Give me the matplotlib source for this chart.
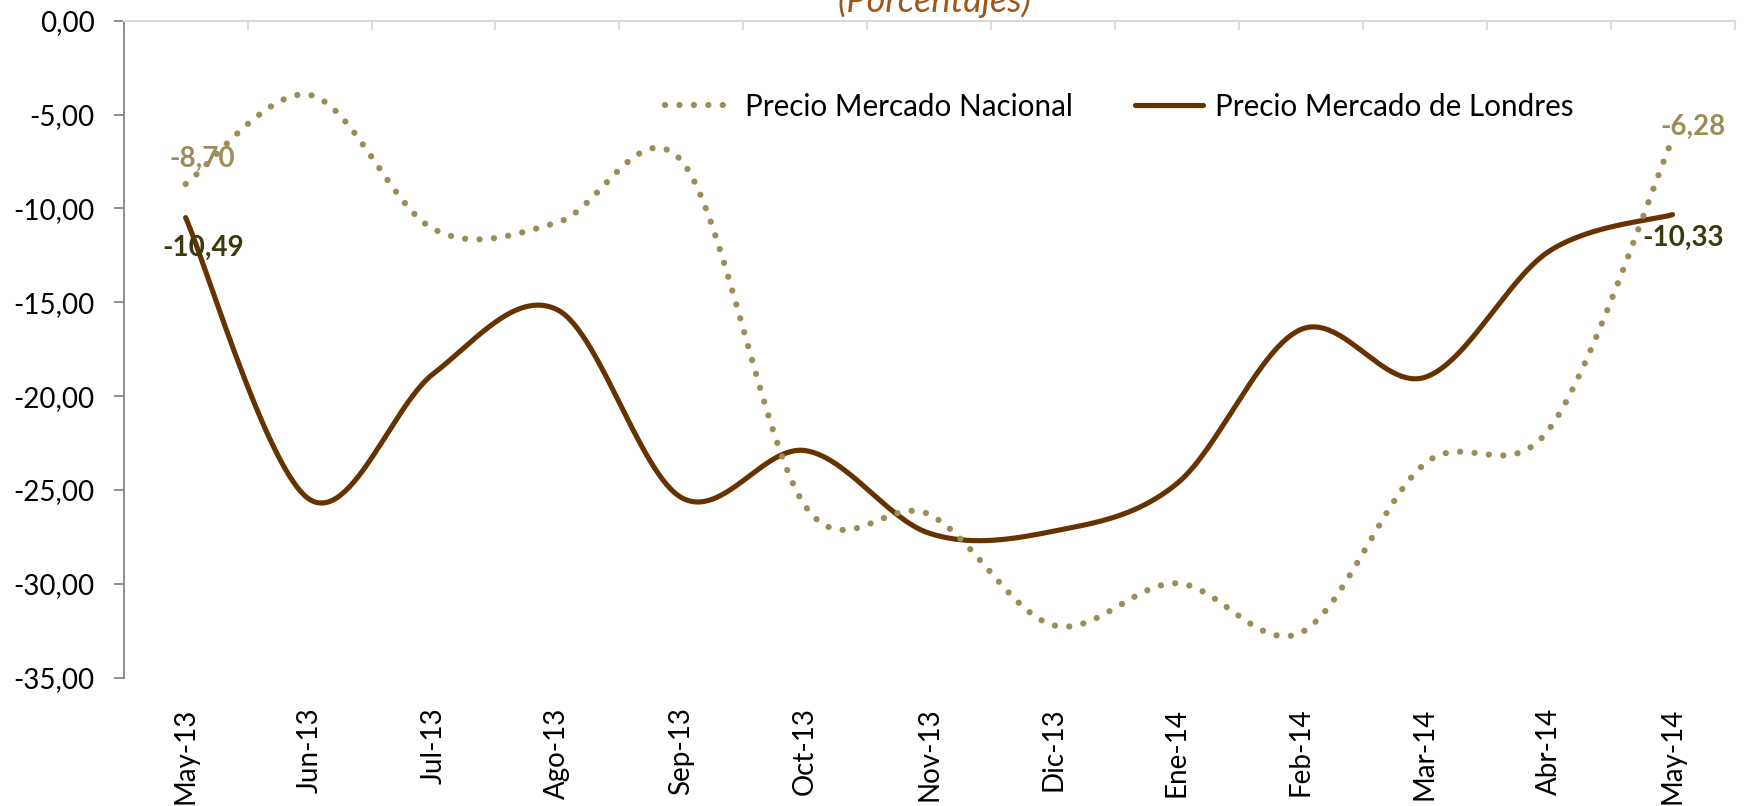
import numpy as np
import matplotlib
matplotlib.use("Agg")
import matplotlib.pyplot as plt
from matplotlib.ticker import FixedLocator, FuncFormatter

plt.rcParams['font.family'] = ['Lato', 'DejaVu Sans']

# Monthly variation (%)
meses = ["May-13", "Jun-13", "Jul-13", "Ago-13", "Sep-13", "Oct-13", "Nov-13",
         "Dic-13", "Ene-14", "Feb-14", "Mar-14", "Abr-14", "May-14"]
nacional = [-8.70, -3.95, -11.10, -10.75, -7.45, -25.85, -26.30,
            -32.20, -29.97, -32.60, -23.60, -21.80, -6.28]
londres = [-10.49, -25.50, -18.80, -15.40, -25.40, -22.90, -27.30,
           -27.20, -24.66, -16.45, -19.00, -12.30, -10.33]

yticks = [0, -5, -10, -15, -20, -25, -30, -35]

C_NAC = "#9B8D57"
C_LON = "#663300"
C_LAB = "#3A3A0A"
C_TITLE = "#A0561A"


def smooth_curve(y, steps=60):
    """Cubic Bezier through every point (Catmull-Rom style control points)."""
    y = np.asarray(y, float)
    x = np.arange(len(y), dtype=float)
    P = np.column_stack([x, y])
    n = len(P)
    out = []
    t = np.linspace(0, 1, steps)[:, None]
    for i in range(n - 1):
        p0 = P[i]
        p3 = P[i + 1]
        pm = P[i - 1] if i > 0 else P[i]
        pp = P[i + 2] if i + 2 < n else P[i + 1]
        c1 = p0 + (p3 - pm) / 6.0
        c2 = p3 - (pp - p0) / 6.0
        seg = ((1 - t) ** 3) * p0 + 3 * ((1 - t) ** 2) * t * c1 \
            + 3 * (1 - t) * t ** 2 * c2 + t ** 3 * p3
        out.append(seg if i == 0 else seg[1:])
    out = np.vstack(out)
    return out[:, 0], out[:, 1]


W, H, DPI = 1744, 806, 100
fig = plt.figure(figsize=(W / DPI, H / DPI), dpi=DPI)
ax = fig.add_axes([123.7 / W, 1 - 677.7 / H, 1610.8 / W, 657.0 / H])

xn, yn = smooth_curve(nacional)
xl, yl = smooth_curve(londres)

ax.plot(xn, yn, color=C_NAC, lw=4.5, linestyle=(0, (0.01, 2.3)),
        dash_capstyle='round', label="Precio Mercado Nacional", zorder=3)
ax.plot(xl, yl, color=C_LON, lw=3.7, solid_capstyle='round',
        label="Precio Mercado de Londres", zorder=2)

ax.set_xlim(-0.5, len(meses) - 0.5)
ax.set_ylim(-35, 0)

# Axis styling
for s in ("right", "bottom"):
    ax.spines[s].set_visible(False)
ax.spines["top"].set_color("#D9D9D9")
ax.spines["top"].set_linewidth(1.5)
ax.spines["left"].set_color("#868686")
ax.spines["left"].set_linewidth(1.3)

ax.xaxis.set_major_locator(FixedLocator(range(len(meses))))
ax.set_xticklabels(meses, rotation=90, fontsize=20)
ax.xaxis.set_minor_locator(FixedLocator(np.arange(-0.5, len(meses), 1.0)))
ax.tick_params(axis='x', which='major', length=0, pad=21.5, bottom=True, top=False)
ax.tick_params(axis='x', which='minor', top=True, bottom=False, direction='in',
               length=6.5, width=1.3, color="#D9D9D9")

ax.yaxis.set_major_locator(FixedLocator(yticks))
ax.yaxis.set_major_formatter(FuncFormatter(lambda v, p: f"{v:.2f}".replace(".", ",")))
ax.tick_params(axis='y', direction='out', length=7, width=1.3, color="#868686",
               pad=14, labelsize=20)

# Data labels at the first and last month
def fmt(v):
    return f"{v:.2f}".replace(".", ",")

ax.annotate(fmt(nacional[0]), (0, nacional[0]), xytext=(17, 25),
            textcoords='offset pixels', ha='center', va='center',
            fontsize=20, fontweight='bold', color=C_NAC, zorder=4)
ax.annotate(fmt(londres[0]), (0, londres[0]), xytext=(18, -30),
            textcoords='offset pixels', ha='center', va='center',
            fontsize=20, fontweight='bold', color=C_LAB, zorder=4)
ax.annotate(fmt(nacional[-1]), (12, nacional[-1]), xytext=(20, 12),
            textcoords='offset pixels', ha='center', va='center',
            fontsize=20, fontweight='bold', color=C_NAC, zorder=4)
ax.annotate(fmt(londres[-1]), (12, londres[-1]), xytext=(11, -23),
            textcoords='offset pixels', ha='center', va='center',
            fontsize=20, fontweight='bold', color=C_LAB, zorder=4)

leg = fig.legend(loc='center left', bbox_to_anchor=(665 / W, 1 - 106.7 / H),
                 ncol=2, frameon=False, fontsize=21.3, handlelength=2.3,
                 handletextpad=0.4, columnspacing=2.1, borderpad=0,
                 borderaxespad=0)

fig.text(935 / W, 1 - 12 / H, "(Porcentajes)", ha='center', va='baseline',
         fontsize=26, style='italic', color=C_TITLE)

fig.savefig("out.png", dpi=DPI)
